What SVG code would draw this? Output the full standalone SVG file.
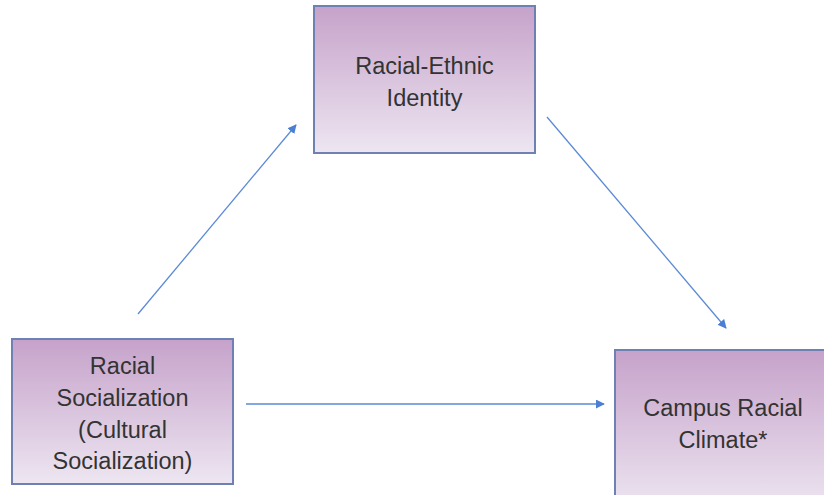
<svg xmlns="http://www.w3.org/2000/svg" width="824" height="495" viewBox="0 0 824 495">
<defs>
<linearGradient id="g" x1="0" y1="0" x2="0" y2="1">
<stop offset="0" stop-color="#c6a2ca"/>
<stop offset="1" stop-color="#ede6f1"/>
</linearGradient>
<marker id="ah" viewBox="0 0 10 10" refX="9" refY="5" markerWidth="9" markerHeight="9" markerUnits="userSpaceOnUse" orient="auto">
<path d="M0,0 L10,5 L0,10 z" fill="#4a7fd3"/>
</marker>
<style>
.box{fill:url(#g);stroke:#6f80b3;stroke-width:2}
.t{font-family:"Liberation Sans",Arial,sans-serif;font-size:23.5px;fill:#333;text-anchor:middle}
.c{stroke:#5b8ad6;stroke-width:1.3;fill:none;marker-end:url(#ah)}
</style>
</defs>
<rect width="824" height="495" fill="#fff"/>
<g id="connectors">
<line class="c" x1="138" y1="314" x2="296" y2="125"/>
<line class="c" x1="547" y1="117" x2="726" y2="328"/>
<line class="c" x1="246" y1="404" x2="604" y2="404"/>
</g>
<g id="identity">
<rect class="box" x="314" y="6" width="221" height="147"/>
<text class="t" x="424.5" y="74">Racial-Ethnic</text>
<text class="t" x="424.5" y="106">Identity</text>
</g>
<g id="socialization">
<rect class="box" x="12" y="339" width="221" height="145"/>
<text class="t" x="122.5" y="374">Racial</text>
<text class="t" x="122.5" y="406">Socialization</text>
<text class="t" x="122.5" y="438">(Cultural</text>
<text class="t" x="122.5" y="469">Socialization)</text>
</g>
<g id="climate">
<rect class="box" x="615" y="350" width="230" height="160"/>
<text class="t" x="723" y="416">Campus Racial</text>
<text class="t" x="723" y="448">Climate*</text>
</g>
</svg>
